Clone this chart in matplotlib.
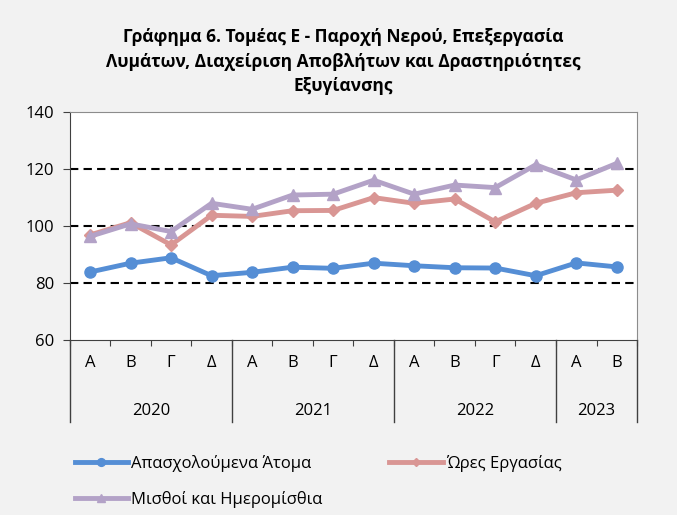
import numpy as np
import matplotlib.pyplot as plt
from matplotlib.lines import Line2D
import matplotlib.transforms as mtransforms

plt.rcParams['font.family'] = ['Open Sans', 'DejaVu Sans']

quarters = ["Α", "Β", "Γ", "Δ", "Α", "Β", "Γ", "Δ", "Α", "Β", "Γ", "Δ", "Α", "Β"]
years = ["2020", "2021", "2022", "2023"]
year_sizes = [4, 4, 4, 2]

employed = [83.8, 86.9, 88.8, 82.5, 83.7, 85.5, 85.1, 86.9, 86.0, 85.3, 85.2, 82.5, 87.0, 85.6]
hours = [96.8, 101.1, 93.3, 103.7, 103.3, 105.3, 105.4, 109.9, 107.9, 109.4, 101.4, 107.9, 111.6, 112.5]
wages = [96.3, 100.7, 98.0, 107.9, 105.8, 110.8, 111.1, 116.0, 111.1, 114.3, 113.4, 121.4, 116.1, 121.9]

names = ["Απασχολούμενα Άτομα", "Ώρες Εργασίας", "Μισθοί και Ημερομίσθια"]
colors = ["#558ED5", "#D99694", "#B3A2C7"]
markers = ["o", "D", "^"]

fig = plt.figure(figsize=(6.77, 5.15), dpi=100, facecolor="#F2F2F2")
ax = fig.add_axes([0.103, 0.34, 0.838, 0.443])
ax.set_facecolor("white")

x = np.arange(len(quarters))
handles = []
for vals, name, c, m in zip([employed, hours, wages], names, colors, markers):
    ms = 6 if m == "D" else 8
    h, = ax.plot(x, vals, color=c, lw=3.5, marker=m, ms=ms, label=name)
    handles.append(h)

ax.set_xlim(-0.5, len(quarters) - 0.5)
ax.set_ylim(60, 140)
ax.set_yticks([60, 80, 100, 120, 140])
ax.tick_params(axis="y", labelsize=12, length=5, pad=6, direction="out", color="#404040")
for yv in [80, 100, 120]:
    ax.axhline(yv, color="black", lw=1.5, ls=(0, (4, 2.5)), zorder=0.5)

for s in ax.spines.values():
    s.set_color("#8C8C8C")
ax.spines["left"].set_color("#404040")
ax.spines["bottom"].set_color("#404040")

# category axis
ax.set_xticks(np.arange(-0.5, len(quarters), 1.0))
ax.set_xticklabels([])
ax.tick_params(axis="x", length=4, direction="out", color="#404040")
trans = mtransforms.blended_transform_factory(ax.transData, ax.transAxes)
for i, q in enumerate(quarters):
    ax.text(i, -0.1, q, transform=trans, ha="center", va="center", fontsize=12)
start = 0
bounds = [-0.5]
for yr, n in zip(years, year_sizes):
    ax.text(start + (n - 1) / 2, -0.31, yr, transform=trans, ha="center", va="center", fontsize=12)
    start += n
    bounds.append(start - 0.5)
for b in bounds:
    ax.add_line(Line2D([b, b], [0, -0.36], transform=trans, color="#404040", lw=1, clip_on=False))

fig.text(0.507, 0.88, "Γράφημα 6. Τομέας Ε - Παροχή Νερού, Επεξεργασία\n"
         "Λυμάτων, Διαχείριση Αποβλήτων και Δραστηριότητες\nΕξυγίανσης",
         ha="center", va="center", fontsize=12.5, fontweight="bold", linespacing=1.45)

leg = fig.legend([handles[0], handles[2], handles[1]],
                 [names[0], names[2], names[1]],
                 ncol=2, loc="upper left", bbox_to_anchor=(0.088, 0.145),
                 frameon=False, fontsize=12, handlelength=3.2, columnspacing=4.0,
                 labelspacing=1.1, markerscale=0.7, handletextpad=0.2)

fig.savefig("out.png", dpi=100, facecolor=fig.get_facecolor())
